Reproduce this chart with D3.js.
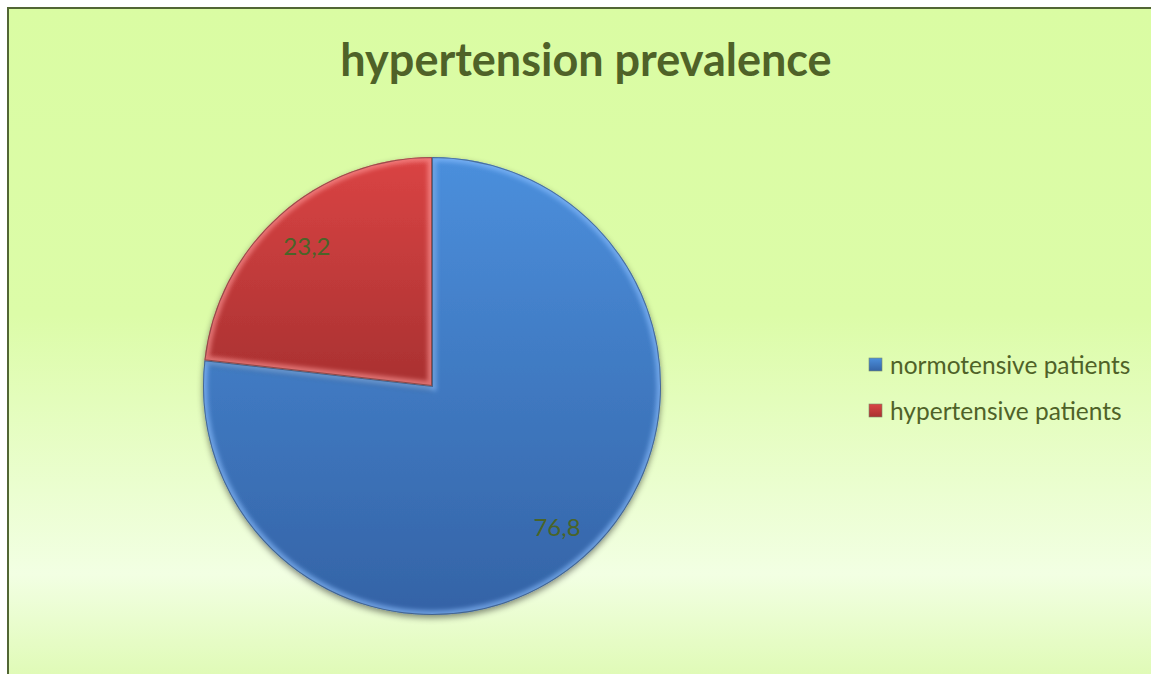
<!DOCTYPE html>
<html>
<head>
<meta charset="utf-8">
<script src="https://cdn.jsdelivr.net/npm/d3@7"></script>
<style>
  html, body { margin: 0; padding: 0; background: #ffffff; overflow: hidden; }
  text { font-family: Lato, "Open Sans", sans-serif; }
</style>
</head>
<body>
<div id="chart"></div>
<script>
// chart data
const categories = ["normotensive patients", "hypertensive patients"];
const values = [76.8, 23.2];
const labels = ["76,8", "23,2"];
const title = "hypertension prevalence";

function main() {
    const width = 1151;
    const height = 674;

    const svg = d3.select("#chart")
        .append("svg")
        .attr("width", width)
        .attr("height", height);

    const defs = svg.append("defs");

    // background gradient of the chart area
    const bg = defs.append("linearGradient")
        .attr("id", "bg")
        .attr("gradientUnits", "userSpaceOnUse")
        .attr("x1", 0).attr("y1", 8).attr("x2", 0).attr("y2", 690);
    bg.append("stop").attr("offset", "0").attr("stop-color", "#dafca3");
    bg.append("stop").attr("offset", "0.45").attr("stop-color", "#dcfca8");
    bg.append("stop").attr("offset", "0.83").attr("stop-color", "#f2ffe3");
    bg.append("stop").attr("offset", "1").attr("stop-color", "#ddfab0");

    // slice colours
    const colors = [
        { id: "blue", top: "#4b8fdc", bottom: "#3463a6", hi: "#8cc0ff" },
        { id: "red", top: "#da4444", bottom: "#a93131", hi: "#ff9a9a" }
    ];
    colors.forEach(c => {
        const g = defs.append("linearGradient")
            .attr("id", "g-" + c.id)
            .attr("x1", 0).attr("y1", 0).attr("x2", 0).attr("y2", 1);
        g.append("stop").attr("offset", "0").attr("stop-color", c.top);
        g.append("stop").attr("offset", "1").attr("stop-color", c.bottom);
    });

    const shadow = defs.append("filter").attr("id", "shadow")
        .attr("x", "-10%").attr("y", "-10%").attr("width", "120%").attr("height", "125%");
    shadow.append("feDropShadow")
        .attr("dx", 0).attr("dy", 3).attr("stdDeviation", 3)
        .attr("flood-color", "#000").attr("flood-opacity", 0.45);

    const blur = defs.append("filter").attr("id", "blur");
    blur.append("feGaussianBlur").attr("stdDeviation", 2);

    // chart frame
    svg.append("rect")
        .attr("x", 8).attr("y", 8)
        .attr("width", width + 20).attr("height", height + 20)
        .attr("fill", "url(#bg)")
        .attr("stroke", "#526634")
        .attr("stroke-width", 2);

    svg.append("text")
        .attr("x", 586)
        .attr("y", 76)
        .attr("text-anchor", "middle")
        .attr("font-size", 45)
        .attr("font-weight", "bold")
        .attr("fill", "#4f6228")
        .text(title);

    // pie
    const cx = 432, cy = 386, radius = 229;
    const pie = d3.pie().sort(null).value(d => d);
    const arcs = pie(values);
    const arc = d3.arc().innerRadius(0).outerRadius(radius);

    const g = svg.append("g").attr("transform", `translate(${cx},${cy})`);

    g.selectAll("path.slice")
        .data(arcs)
        .enter()
        .append("path")
        .attr("class", "slice")
        .attr("d", arc)
        .attr("fill", (d, i) => `url(#g-${colors[i].id})`)
        .attr("filter", "url(#shadow)");

    // bevel: light inner edge, clipped to each slice
    arcs.forEach((d, i) => {
        defs.append("clipPath").attr("id", "clip" + i)
            .append("path").attr("d", arc(d));
        const b = g.append("g").attr("clip-path", `url(#clip${i})`);
        b.append("path")
            .attr("d", arc(d))
            .attr("fill", "none")
            .attr("stroke", colors[i].hi)
            .attr("stroke-opacity", 0.6)
            .attr("stroke-width", 9)
            .attr("filter", "url(#blur)");
        b.append("path")
            .attr("d", arc(d))
            .attr("fill", "none")
            .attr("stroke", "#000")
            .attr("stroke-opacity", 0.35)
            .attr("stroke-width", 2);
    });

    // data labels
    const labelArc = d3.arc().innerRadius(radius * 0.82).outerRadius(radius * 0.82);
    g.selectAll("text.label")
        .data(arcs)
        .enter()
        .append("text")
        .attr("class", "label")
        .attr("transform", d => `translate(${labelArc.centroid(d)})`)
        .attr("text-anchor", "middle")
        .attr("dominant-baseline", "central")
        .attr("font-size", 24)
        .attr("fill", "#4a6428")
        .text((d, i) => labels[i]);

    // legend
    const legend = svg.append("g").attr("transform", "translate(869,364)");
    const item = legend.selectAll("g")
        .data(categories)
        .enter()
        .append("g")
        .attr("transform", (d, i) => `translate(0,${i * 46})`);
    item.append("rect")
        .attr("x", 0).attr("y", -6)
        .attr("width", 13).attr("height", 13)
        .attr("fill", (d, i) => `url(#g-${colors[i].id})`)
        .attr("stroke", "#7a8a6a")
        .attr("stroke-width", 0.6);
    item.append("text")
        .attr("x", 21)
        .attr("y", 0)
        .attr("dominant-baseline", "central")
        .attr("font-size", 24.5)
        .attr("fill", "#4f6228")
        .text(d => d);
}

main();
</script>
</body>
</html>
